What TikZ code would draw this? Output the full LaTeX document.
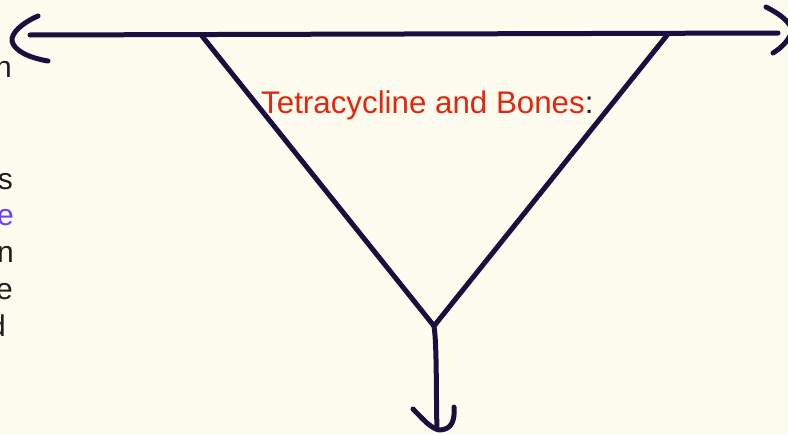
\documentclass[tikz,border=0pt]{standalone}
\usepackage{fontspec}
\setmainfont{Liberation Sans}
\definecolor{bgc}{HTML}{FEFCEF}
\definecolor{ink}{HTML}{1B0F3F}
\definecolor{redt}{HTML}{E5260E}
\definecolor{purt}{HTML}{6A3DFF}
\definecolor{txt}{HTML}{1E1E1E}
\tikzset{
  pen/.style={draw=ink, line width=5pt, line cap=round, line join=round},
  sidetxt/.style={anchor=base east, inner sep=0pt, text=txt, font=\fontsize{30}{37}\selectfont},
}
\begin{document}
\begin{tikzpicture}[x=1pt,y=-1pt]
\useasboundingbox (0,0) rectangle (788,434);
\fill[bgc] (0,0) rectangle (788,434);
\clip (0,0) rectangle (788,434);
% left cut-off text column
\node[sidetxt] (t1) at (12,77) {n};
\node[sidetxt] (t2) at (13,189) {s};
\node[sidetxt, text=purt] (t3) at (14,225) {e};
\node[sidetxt] (t4) at (14,262) {n};
\node[sidetxt] (t5) at (13,299) {e};
\node[sidetxt] (t6) at (6,336) {d};
% vertices
\coordinate (L) at (30,35);
\coordinate (R) at (778,33);
\coordinate (A) at (202,36);
\coordinate (B) at (668,34);
\coordinate (C) at (434,326);
\coordinate (D) at (437,429);
% horizontal line and triangle
\draw[pen] (L) -- (R);
\draw[pen] (A) -- (C) -- (B);
% vertical line
\draw[pen] (C) .. controls (437,345) and (436,400) .. (D);
% left arrowhead
\draw[pen] (38,16) .. controls (22,23) and (11,33) .. (12,41) .. controls (14,51) and (30,58) .. (48,61);
% right arrowhead
\draw[pen] (766,7) .. controls (780,14) and (790,22) .. (792,30) .. controls (790,40) and (781,48) .. (773,53);
% bottom arrowhead
\draw[pen] (413,409) .. controls (422,418) and (430,428) .. (439,430) .. controls (452,430) and (455,420) .. (454,407);
% title
\node[anchor=base west, inner sep=0pt, font=\fontsize{31.3}{37}\selectfont] (title) at (261,113) {\textcolor{redt}{Tetracycline and Bones}\textcolor{txt}{:}};
\end{tikzpicture}
\end{document}
